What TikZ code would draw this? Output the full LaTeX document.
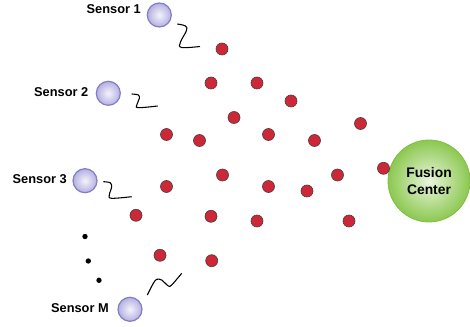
\documentclass[tikz,border=0pt]{standalone}
\usepackage{fontspec}
\setmainfont{Liberation Sans}
\usetikzlibrary{shapes.geometric}
\definecolor{dotred}{RGB}{204,40,56}
\definecolor{dotedge}{RGB}{80,60,60}
\definecolor{senedge}{RGB}{130,125,200}
\definecolor{senout}{RGB}{180,176,225}
\definecolor{fcedge}{RGB}{130,190,70}
\definecolor{fcout}{RGB}{140,200,80}
\definecolor{fcin}{RGB}{232,245,220}
\tikzset{
  reddot/.style={circle,draw=dotedge,line width=0.5pt,fill=dotred,minimum size=9pt,inner sep=0pt},
  sensor/.style={circle,draw=senedge,line width=0.9pt,inner color=white!85!senout,outer color=senout,minimum size=18pt,inner sep=0pt},
  fusion/.style={circle,draw=fcedge,line width=0.6pt,inner color=fcin,outer color=fcout,minimum size=61.5pt,inner sep=0pt,align=center,font=\fontsize{10.4pt}{12.6pt}\selectfont\bfseries},
  lbl/.style={anchor=east,inner sep=0pt,font=\fontsize{9.6pt}{11pt}\selectfont\bfseries},
  wave/.style={draw=black,line width=0.8pt},
  bdot/.style={circle,fill=black,minimum size=4pt,inner sep=0pt}
}
\begin{document}
\begin{tikzpicture}[x=0.75pt,y=-0.75pt]
\useasboundingbox (0,0) rectangle (470,327);
% sensors
\node[sensor] (s1) at (159.3,15) {};
\node[sensor] (s2) at (108.3,93.3) {};
\node[sensor] (s3) at (85,180.7) {};
\node[sensor] (sm) at (130,309.3) {};
\node[lbl] (l1) at (141,9) {Sensor 1};
\node[lbl] (l2) at (88.5,92.5) {Sensor 2};
\node[lbl] (l3) at (67,179.5) {Sensor 3};
\node[lbl] (lm) at (109,308.5) {Sensor M};
% fusion center
\node[fusion] (fc) at (429,181) {Fusion\\Center};
% red dots
\foreach \n/\x/\y in {a/222/49, b/211/83, c/257/83, d/291/101, e/234/117.5, f/166.5/134.5, g/199.5/140.5, h/268.5/134.5, i/314.5/140.5, j/360.5/123.5, k/383.5/168.3, l/337.5/175, m/307/191, n/268.5/186.5, o/222.5/175, p/166.5/186.5, q/136/215.3, r/211/216.3, s/257/221, t/349/221, u/160/255.3, v/211.7/260.7}
  \node[reddot] (d\n) at (\x,\y) {};
% ellipsis dots
\node[bdot] (e1) at (85,236.5) {};
\node[bdot] (e2) at (88.3,261) {};
\node[bdot] (e3) at (99,280.3) {};
% squiggles
\draw[wave] plot[smooth,tension=0.6] coordinates {(177.3,24) (185.5,26) (186.5,30.5) (180.5,42) (181.5,47.5) (200,46.5)};
\draw[wave] plot[smooth,tension=0.6] coordinates {(131.7,94) (138.3,95) (139.3,98.5) (136.8,105) (138.5,107.7) (157.7,106)};
\draw[wave] plot[smooth,tension=0.6] coordinates {(103.3,181.7) (110,182.7) (111.7,186.7) (109.3,195) (111.7,198.3) (131.7,196.7)};
\draw[wave] plot[smooth,tension=0.5] coordinates {(147.3,295) (153.3,283.3) (156.7,279.3) (161.7,280) (168.3,286) (171.7,285) (181.7,273.3)};
\end{tikzpicture}
\end{document}
